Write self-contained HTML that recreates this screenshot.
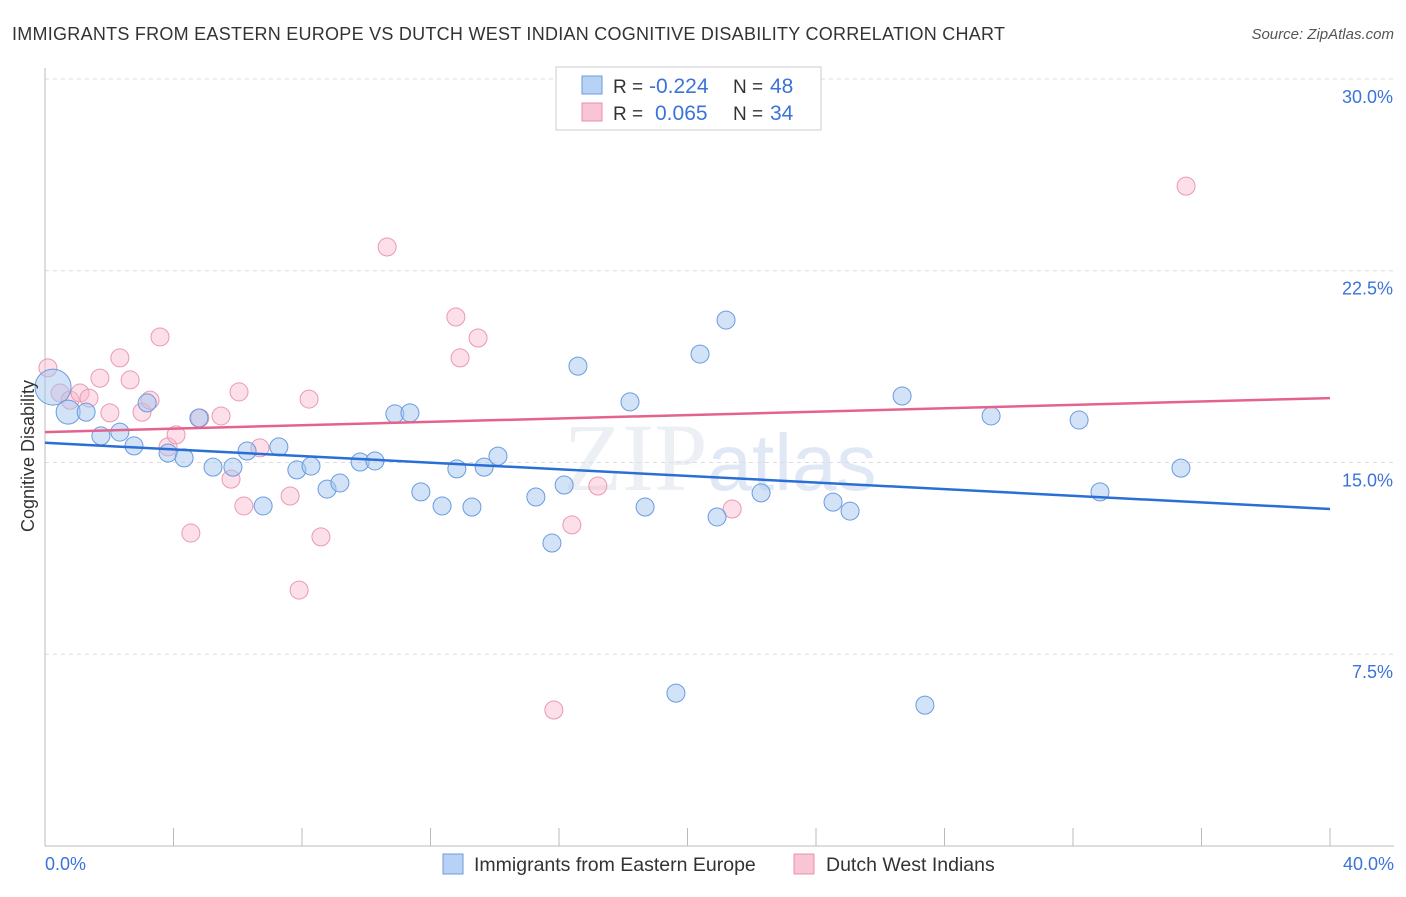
<!DOCTYPE html>
<html><head><meta charset="utf-8"><style>
body{margin:0;background:#fff;font-family:"Liberation Sans",sans-serif;}
</style></head><body>
<svg width="1406" height="892" xmlns="http://www.w3.org/2000/svg" style="font-family:'Liberation Sans',sans-serif">
<text x="12" y="40" font-size="18" fill="#333" textLength="993">IMMIGRANTS FROM EASTERN EUROPE VS DUTCH WEST INDIAN COGNITIVE DISABILITY CORRELATION CHART</text>
<text x="1394" y="39" font-size="15" fill="#555" font-style="italic" text-anchor="end">Source: ZipAtlas.com</text>
<text x="720" y="490" font-size="96" fill="#eceff3" text-anchor="middle" font-family="Liberation Serif,serif">ZIP<tspan fill="#e0e8f5" font-family="Liberation Sans,sans-serif" font-size="80">atlas</tspan></text>
<g id="grid"></g>
<g id="axes"></g>
<g id="marks"></g>
<text x="34" y="456" font-size="18" fill="#333" text-anchor="middle" transform="rotate(-90 34 456)">Cognitive Disability</text>
<text x="45" y="870" font-size="18" fill="#3b73d9">0.0%</text>
<text x="1394" y="870" font-size="18" fill="#3b73d9" text-anchor="end">40.0%</text>
<g>
<rect x="556" y="67" width="265" height="63" fill="#fff" stroke="#ccc"/>
<rect x="582" y="76" width="20" height="18" fill="#b8d2f4" stroke="#6a9be0"/>
<rect x="582" y="103" width="20" height="18" fill="#f9c5d5" stroke="#e890aa"/>
<text x="613" y="93" font-size="19" fill="#333">R =<tspan x="649" fill="#3b73d9" font-size="21">-0.224</tspan><tspan x="733">N =</tspan><tspan x="770" fill="#3b73d9" font-size="21">48</tspan></text>
<text x="613" y="120" font-size="19" fill="#333">R =<tspan fill="#3b73d9" x="655" font-size="21">0.065</tspan><tspan x="733">N =</tspan><tspan x="770" fill="#3b73d9" font-size="21">34</tspan></text>
</g>
<g>
<rect x="443" y="854" width="20" height="20" fill="#b8d2f4" stroke="#6a9be0"/>
<text x="474" y="871" font-size="19.5" fill="#333">Immigrants from Eastern Europe</text>
<rect x="794" y="854" width="20" height="20" fill="#f9c5d5" stroke="#e890aa"/>
<text x="826" y="871" font-size="19.5" fill="#333">Dutch West Indians</text>
</g>
</svg>
<script>
const blueX=[0.25,0.72,1.28,1.74,2.33,2.77,3.83,3.18,4.33,4.79,5.23,5.85,6.29,6.79,7.28,7.84,8.28,8.78,9.18,9.81,10.27,10.89,11.36,11.70,12.36,12.82,13.29,13.67,14.10,15.28,15.78,16.16,16.59,18.21,18.68,19.64,20.39,20.92,21.20,22.29,24.53,25.06,26.68,27.39,29.45,32.19,32.84,35.36];
const blueY=[17.95,16.97,16.97,16.04,16.19,15.65,15.37,17.33,15.18,16.74,14.82,14.82,15.45,13.30,15.61,14.71,14.86,13.96,14.20,15.02,15.06,16.90,16.94,13.85,13.30,14.75,13.26,14.82,15.25,13.65,11.85,14.12,18.77,17.37,13.26,5.98,19.24,12.87,20.57,13.81,13.45,13.10,17.60,5.51,16.82,16.66,13.85,14.78];
const pinkX=[0.09,0.47,0.78,1.09,1.37,1.71,2.02,2.33,2.65,3.02,3.27,3.58,3.83,4.08,4.54,4.82,5.48,5.79,6.04,6.19,6.69,7.63,8.22,8.59,7.91,10.65,12.79,12.92,13.48,15.84,16.40,17.21,21.39,35.52];
const pinkY=[18.70,17.72,17.44,17.72,17.52,18.30,16.94,19.09,18.23,16.97,17.44,19.91,15.61,16.08,12.24,16.74,16.82,14.35,17.76,13.30,15.57,13.69,17.48,12.09,10.01,23.43,20.69,19.09,19.87,5.32,12.56,14.08,13.18,25.81];
const blueTrend=[15.77,13.18];
const pinkTrend=[16.19,17.52];
const yTicks=[7.5,15,22.5,30];
const xTicks=[0,4,8,12,16,20,24,28,32,36,40];
const NS='http://www.w3.org/2000/svg';
const sx=v=>45+v/40*1285, sy=v=>846-v*25.567;
function mk(tag,attrs,parent){const e=document.createElementNS(NS,tag);for(const k in attrs)e.setAttribute(k,attrs[k]);document.getElementById(parent).appendChild(e);return e;}
yTicks.forEach(t=>{
 const l=mk('line',{x1:45,x2:1394,y1:sy(t),y2:sy(t),stroke:'#ddd','stroke-dasharray':'4,4'},'grid');
 
 
 const tx=mk('text',{x:1393,y:sy(t)+24,'font-size':18,fill:'#3b73d9','text-anchor':'end'},'grid');
 tx.textContent=t.toFixed(1)+'%';
 
 
});
let ax=mk('line',{x1:45,x2:45,y1:68,y2:846,stroke:'#bbb'},'axes');


ax=mk('line',{x1:45,x2:1394,y1:846,y2:846,stroke:'#bbb'},'axes');


xTicks.forEach(t=>{
 const l=mk('line',{x1:sx(t),x2:sx(t),y1:828,y2:846,stroke:'#bbb'},'axes');
 
 
});
function pts(X,Y,fill,stroke,name){
 X.forEach((x,i)=>{
  const r=(i===0&&name==='blue-point')?18:((i===1&&name==='blue-point')?12:9);
  const c=mk('circle',{cx:sx(x),cy:sy(Y[i]),r:r,fill:fill,stroke:stroke,'stroke-width':1},'marks');
  
  
 });
}
pts(pinkX,pinkY,'rgba(248,185,205,0.45)','#e99ab2','pink-point');
pts(blueX,blueY,'rgba(165,198,240,0.5)','#6a9be0','blue-point');
let tl=mk('line',{x1:sx(0),x2:sx(40),y1:sy(blueTrend[0]),y2:sy(blueTrend[1]),stroke:'#2a6fd6','stroke-width':2.5},'marks');


tl=mk('line',{x1:sx(0),x2:sx(40),y1:sy(pinkTrend[0]),y2:sy(pinkTrend[1]),stroke:'#e4628c','stroke-width':2.5},'marks');


</script>
</body></html>
